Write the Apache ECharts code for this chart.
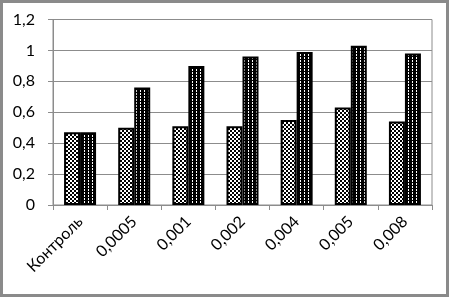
<!DOCTYPE html>
<html><head><meta charset="utf-8">
<script src="https://cdn.jsdelivr.net/npm/echarts@6/dist/echarts.min.js"></script>
<style>
html,body{margin:0;padding:0;background:#fff;}
#c{width:449px;height:297px;box-sizing:border-box;border:3px solid #8a8a8a;}
</style></head><body>
<div id="c"></div>
<script>
var categories = ['Контроль','0,0005','0,001','0,002','0,004','0,005','0,008'];
var seriesA = [0.47,0.50,0.51,0.51,0.55,0.63,0.54];
var seriesB = [0.47,0.76,0.90,0.96,0.99,1.03,0.98];
var yTickLabels = ['0','0,2','0,4','0,6','0,8','1','1,2'];

function makePattern(w,h,bg,fg,pts){
  var cv=document.createElement('canvas');cv.width=w;cv.height=h;
  var g=cv.getContext('2d');g.fillStyle=bg;g.fillRect(0,0,w,h);g.fillStyle=fg;
  pts.forEach(function(p){g.fillRect(p[0],p[1],1,1);});
  return cv;
}
var patA = makePattern(4,4,'#fff','#000',[[0,0],[1,1],[2,2],[3,3],[3,0],[2,1],[1,2],[0,3]]);
var patB = makePattern(4,3,'#000','#fff',[[1,0],[1,1]]);

var chart = echarts.init(document.getElementById('c'),null,{renderer:'canvas'});
chart.setOption({
  animation:false,
  grid:{left:50,right:14,top:16.5,bottom:89,show:true,borderColor:'#8c8c8c',borderWidth:1,containLabel:false},
  xAxis:{type:'category',data:categories,
    axisLine:{lineStyle:{color:'#8c8c8c',width:1}},
    axisTick:{show:true,length:5,lineStyle:{color:'#8c8c8c'},alignWithLabel:false},
    axisLabel:{rotate:45,color:'#000',fontSize:16,fontFamily:'Lato',margin:14,interval:0}},
  yAxis:{type:'value',min:0,max:1.2,interval:0.2,
    axisLine:{show:true,lineStyle:{color:'#8c8c8c'}},
    axisTick:{show:true,length:5,lineStyle:{color:'#8c8c8c'}},
    splitLine:{lineStyle:{color:'#8c8c8c',width:1}},
    axisLabel:{color:'#000',fontSize:16,fontFamily:'Lato',margin:18,
      formatter:function(v){return yTickLabels[Math.round(v/0.2)];}}},
  series:[
    {type:'bar',data:seriesA,barWidth:16,barGap:'0%',
      itemStyle:{color:{image:patA,repeat:'repeat'},borderColor:'#000',borderWidth:2}},
    {type:'bar',data:seriesB,barWidth:16,barGap:'0%',
      itemStyle:{color:{image:patB,repeat:'repeat'},borderColor:'#000',borderWidth:2}}
  ]
});
</script></body></html>
